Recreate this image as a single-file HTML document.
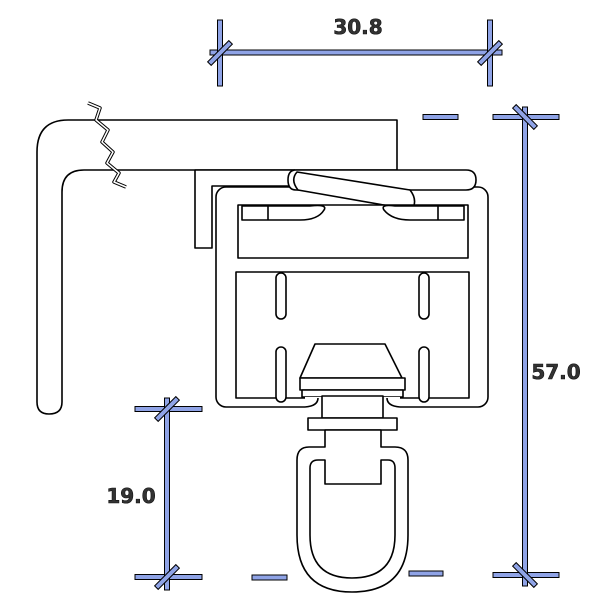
<!DOCTYPE html>
<html><head><meta charset="utf-8"><style>
html,body{margin:0;padding:0;background:#fff}
svg{display:block}
text{font-family:"DejaVu Sans","Liberation Sans",sans-serif;font-weight:bold;fill:#333;stroke:#111;stroke-width:0.6}
</style></head><body>
<svg width="600" height="600" viewBox="0 0 600 600" xmlns="http://www.w3.org/2000/svg">
<g fill="#fff" stroke="#000" stroke-width="1.6" stroke-linejoin="round">
<!-- bracket -->
<path d="M397 120 H68 Q37 120 37 152 V402 Q37 414 49 414 Q62 414 62 402 V192 Q62 170 84 170 H397 Z"/>
<path d="M295 170 H195 V248 H212 V186 H295"/>
<!-- zigzag break -->
<polyline points="88,103 100,108 96,120 108,130 102,142 113,152 107,163 119,173 114,182 126,187" fill="none" stroke="#000" stroke-width="3.5"/>
<polyline points="88,103 100,108 96,120 108,130 102,142 113,152 107,163 119,173 114,182 126,187" fill="none" stroke="#fff" stroke-width="1.5"/>
<!-- carrier body -->
<rect x="216" y="187" width="272" height="220" rx="10"/>
<!-- clip capsule -->
<path d="M296 170 H466 Q476 170 476 180 Q476 190 466 190 H296 Q288 190 288 180 Q288 170 296 170 Z"/>
<path d="M297 172 L410 190 Q418 200 412 210 L298 190 Q290 180 297 172 Z"/>
<!-- top chamber -->
<rect x="238" y="205" width="230" height="53"/>
<path d="M242 206 H268 V220 H242 Z M268 206 H310 Q328 204 324 210 Q318 220 300 220 H268"/>
<path d="M438 206 H464 V220 H438 Z M438 206 H395 Q380 204 384 210 Q392 220 410 220 H438"/>
<!-- lower chamber -->
<rect x="236" y="272" width="233" height="126"/>
<rect x="276" y="273" width="10" height="46" rx="5"/>
<rect x="419" y="273" width="10" height="46" rx="5"/>
<rect x="276" y="347" width="10" height="55" rx="5"/>
<rect x="419" y="347" width="10" height="55" rx="5"/>
<!-- hanger head -->
<path d="M315 344 H385 L402 378 H300 Z"/>
<rect x="300" y="378" width="105" height="12"/>
<rect x="302" y="390" width="101" height="7"/>
<rect x="305" y="397" width="95" height="14" stroke="none"/>
<path d="M305 407 Q318 406 318 398 M400 407 Q387 406 387 398" fill="none"/>
<rect x="322" y="396" width="61" height="22"/>
<rect x="308" y="418" width="89" height="12"/>
<!-- loop -->
<path d="M325 430 V447 H309 Q297 447 297 460 V535 Q297 592 352 592 Q408 592 408 535 V460 Q408 447 395 447 H381 V430 Z"/>
<path d="M318 460 Q310 460 310 468 V535 Q310 578 352 578 Q395 578 395 535 V468 Q395 460 388 460 H381 V484 H325 V460 Z"/>
</g>
<!-- dimension bars -->
<g fill="#8fa3e6" stroke="#000" stroke-width="1">
<rect x="210" y="50" width="292" height="5"/>
<rect x="217.5" y="20" width="5" height="66"/>
<rect x="487.5" y="20" width="5" height="66"/>
<rect x="-2.5" y="-15" width="5" height="30" transform="translate(220,53) rotate(45)"/>
<rect x="-2.5" y="-15" width="5" height="30" transform="translate(490,53) rotate(45)"/>
<rect x="493" y="114.5" width="66" height="5"/>
<rect x="493" y="572.5" width="66" height="5"/>
<rect x="522.5" y="107" width="5" height="479"/>
<rect x="-2.5" y="-15" width="5" height="30" transform="translate(525,117) rotate(-45)"/>
<rect x="-2.5" y="-15" width="5" height="30" transform="translate(525,575) rotate(-45)"/>
<rect x="135" y="406.5" width="67" height="5"/>
<rect x="135" y="574.5" width="67" height="5"/>
<rect x="164.5" y="398" width="5" height="192"/>
<rect x="-2.5" y="-15" width="5" height="30" transform="translate(167,409) rotate(45)"/>
<rect x="-2.5" y="-15" width="5" height="30" transform="translate(167,577) rotate(45)"/>
<rect x="423" y="114.5" width="35" height="5"/>
<rect x="252" y="575" width="35" height="5"/>
<rect x="409" y="571" width="34" height="5"/>
</g>
<text x="358" y="34" font-size="20" text-anchor="middle">30.8</text>
<text x="556" y="379" font-size="20" text-anchor="middle">57.0</text>
<text x="131" y="503" font-size="20" text-anchor="middle">19.0</text>
</svg>
</body></html>
